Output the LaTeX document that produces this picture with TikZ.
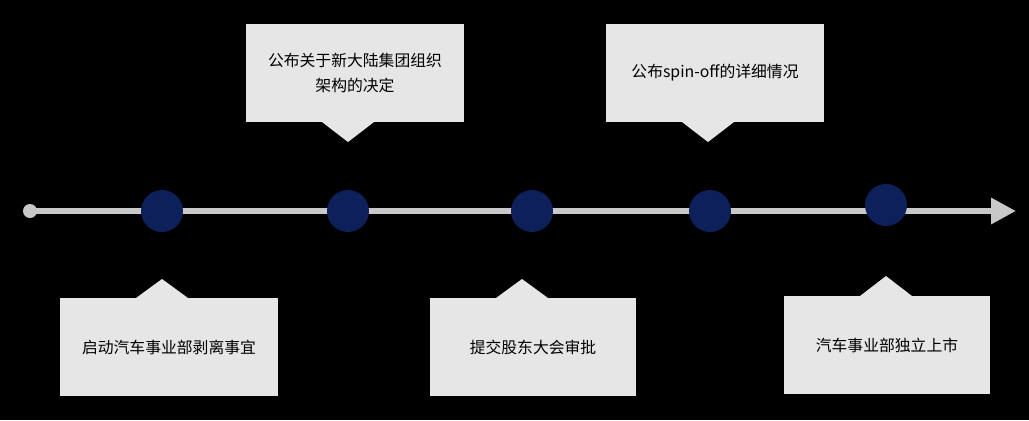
\documentclass[tikz,border=0pt]{standalone}
\usepackage{fontspec}
\newfontfamily\cjk{Noto Sans CJK SC}
\usetikzlibrary{positioning}
\usetikzlibrary{arrows.meta}
\definecolor{navy}{RGB}{14,32,90}
\definecolor{linegray}{RGB}{200,200,200}
\definecolor{boxgray}{RGB}{230,230,230}
\tikzset{
  milestone/.style={circle,fill=navy,minimum size=0.84cm,inner sep=0pt},
  eventbox/.style={fill=boxgray,minimum height=1.96cm,align=center,font=\cjk\fontsize{9}{14}\selectfont,inner sep=2pt},
  pointer/.style={fill=boxgray}
}
\begin{document}
\begin{tikzpicture}[x=0.02cm,y=-0.02cm]
    \fill [black] (0,0) rectangle (1029,420);
    \useasboundingbox (0,0) rectangle (1029,420);

    % timeline
    \node [circle,fill=linegray,minimum size=0.28cm,inner sep=0pt] (start) at (30,211) {};
    \coordinate (end) at (1016,211);
    \draw [linegray,line width=3.5pt,-{Triangle[length=0.5cm,width=0.5cm]}] (start.center) -- (end);

    \node [milestone] (m1) at (162,211) {};
    \node [milestone] (m2) at (348,211) {};
    \node [milestone] (m3) at (532,211) {};
    \node [milestone] (m4) at (710,211) {};
    \node [milestone] (m5) at (886,205) {};

    % upper boxes
    \node [eventbox,minimum width=4.36cm] (b2) at (355,73) {公布关于新大陆集团组织\\架构的决定};
    \fill [pointer] (322,122) -- (374,122) -- (348,142) -- cycle;
    \node [eventbox,minimum width=4.36cm] (b4) at (715,73) {公布spin-off的详细情况};
    \fill [pointer] (682,122) -- (734,122) -- (708,142) -- cycle;

    % lower boxes
    \node [eventbox,minimum width=4.36cm] (b1) at (169,347) {启动汽车事业部剥离事宜};
    \fill [pointer] (136,298) -- (188,298) -- (162,279) -- cycle;
    \node [eventbox,minimum width=4.12cm] (b3) at (533,347) {提交股东大会审批};
    \fill [pointer] (496,298) -- (548,298) -- (522,279) -- cycle;
    \node [eventbox,minimum width=4.12cm] (b5) at (887,345) {汽车事业部独立上市};
    \fill [pointer] (860,296) -- (912,296) -- (886,276) -- cycle;
\end{tikzpicture}
\end{document}
